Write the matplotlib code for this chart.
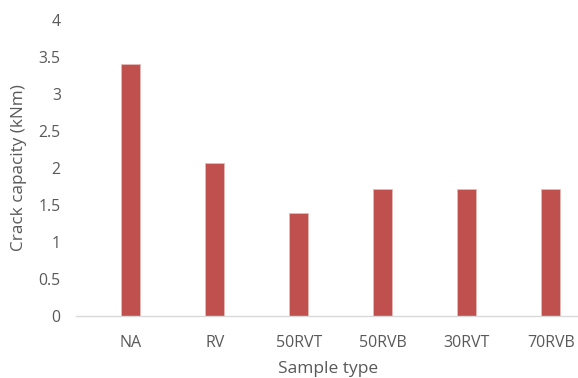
import numpy as np
import matplotlib.pyplot as plt

plt.rcParams['font.family'] = ['Open Sans', 'DejaVu Sans']

samples  = ["NA", "RV", "50RVT", "50RVB", "30RVT", "70RVB"]
capacity = [3.4, 2.06, 1.39, 1.71, 1.71, 1.71]
y_ticks  = [0, 0.5, 1, 1.5, 2, 2.5, 3, 3.5, 4]

BAR_RED   = "#C0504D"
TEXT_GREY = "#595959"

fig = plt.figure(figsize=(5.78, 3.78), dpi=100)
ax  = fig.add_axes([76 / 578, 62.3 / 378, 502 / 578, 295.7 / 378])

x = np.arange(len(samples))
ax.bar(x, capacity, width=0.23, color=BAR_RED, edgecolor="#E6B9B8", linewidth=0.6, zorder=2)

ax.set_ylim(0, 4)
ax.set_xlim(-0.65, 5.325)
ax.set_yticks(y_ticks)
ax.set_yticklabels([f"{t:g}" for t in y_ticks])
ax.set_xticks(x)
ax.set_xticklabels(samples)

for side in ["top", "right", "left"]:
    ax.spines[side].set_visible(False)
ax.spines["bottom"].set_color("#D9D9D9")
ax.spines["bottom"].set_linewidth(1.0)

ax.tick_params(axis="y", length=0, pad=11, labelsize=11.3, labelcolor=TEXT_GREY)
ax.tick_params(axis="x", length=0, pad=14, labelsize=11.5, labelcolor=TEXT_GREY)

# axis titles, placed by their centres
ax.set_xlabel("Sample type", fontsize=12.5, color=TEXT_GREY, va="center")
ax.xaxis.set_label_coords((328 - 76) / 502, -53.3 / 295.7)

ax.set_ylabel("Crack capacity (kNm)", fontsize=12.3, color=TEXT_GREY, va="center")
ax.yaxis.set_label_coords(-(76 - 19) / 502, (315.7 - 168) / 295.7)

fig.savefig("out.png", dpi=100)
